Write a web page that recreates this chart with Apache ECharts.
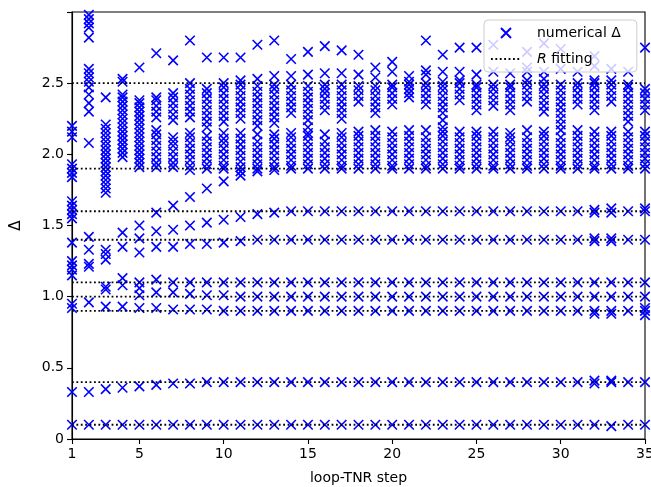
<!DOCTYPE html>
<html>
<head>
<meta charset="utf-8">
<script src="https://cdn.jsdelivr.net/npm/echarts@6/dist/echarts.min.js"></script>
<style>
html,body{margin:0;padding:0;background:#fff;}
#chart{width:651px;height:487px;}
</style>
</head>
<body>
<div id="chart"></div>
<script>
// x tick labels
const xTicks = [1, 5, 10, 15, 20, 25, 30, 35];
// R fitting levels
const fitLevels = [0.1, 0.4, 0.9, 1.0, 1.1, 1.4, 1.6, 1.9, 2.5];
// numerical Δ per loop-TNR step
const d01 = [0.10,0.33,0.92,0.95,1.15,1.19,1.22,1.25,1.38,1.55,1.58,1.61,1.64,1.67,1.84,1.87,1.90,1.93,2.12,2.16,2.20];
const d02 = [0.10,0.33,0.96,1.21,1.23,1.33,1.42,2.08,2.30,2.36,2.42,2.47,2.51,2.54,2.57,2.60,2.82,2.89,2.92,2.95,2.98,3.02];
const d03 = [0.10,0.35,0.93,1.05,1.07,1.26,1.30,1.33,1.73,1.76,1.79,1.82,1.85,1.88,1.91,1.94,1.97,2.00,2.03,2.06,2.09,2.12,2.15,2.18,2.21,2.40];
const d04 = [0.10,0.36,0.93,1.08,1.13,1.35,1.45,1.98,2.01,2.04,2.07,2.10,2.13,2.16,2.19,2.22,2.25,2.28,2.31,2.34,2.37,2.40,2.42,2.51,2.53];
const d05 = [0.10,0.37,0.92,1.01,1.06,1.10,1.31,1.41,1.50,1.91,1.94,1.97,2.00,2.03,2.06,2.09,2.12,2.15,2.18,2.21,2.24,2.27,2.30,2.33,2.36,2.38,2.61];
const d06 = [0.10,0.38,0.92,1.03,1.12,1.35,1.46,1.59,1.91,1.94,1.98,2.02,2.06,2.10,2.14,2.17,2.26,2.30,2.34,2.38,2.40,2.71];
const d07 = [0.10,0.39,0.91,1.03,1.10,1.35,1.47,1.64,1.91,1.94,1.98,2.02,2.06,2.09,2.12,2.24,2.28,2.32,2.36,2.40,2.43,2.66];
const d08 = [0.10,0.39,0.91,1.02,1.10,1.37,1.50,1.70,1.89,1.92,1.96,2.00,2.04,2.08,2.12,2.15,2.26,2.30,2.34,2.38,2.42,2.46,2.50,2.80];
const d09 = [0.10,0.40,0.91,1.01,1.10,1.37,1.52,1.76,1.90,1.93,1.97,2.01,2.05,2.09,2.13,2.19,2.23,2.27,2.31,2.35,2.39,2.43,2.46,2.68];
const d10 = [0.10,0.40,0.90,1.01,1.10,1.38,1.54,1.81,1.90,1.92,1.96,2.00,2.04,2.08,2.11,2.15,2.23,2.27,2.31,2.35,2.39,2.43,2.47,2.50,2.68];
const d11 = [0.10,0.40,0.90,1.00,1.10,1.39,1.56,1.85,1.88,1.91,1.95,1.99,2.03,2.07,2.11,2.15,2.25,2.29,2.33,2.37,2.41,2.45,2.49,2.52,2.68];
const d12 = [0.10,0.40,0.90,1.00,1.10,1.40,1.58,1.88,1.90,1.93,1.97,2.01,2.05,2.09,2.14,2.20,2.24,2.28,2.32,2.36,2.40,2.44,2.48,2.53,2.77];
const d13 = [0.10,0.40,0.90,1.00,1.10,1.40,1.59,1.89,1.91,1.95,1.99,2.03,2.07,2.11,2.14,2.22,2.26,2.30,2.34,2.38,2.42,2.46,2.49,2.55,2.80];
const d14 = [0.10,0.40,0.90,1.00,1.10,1.40,1.60,1.90,1.92,1.96,2.00,2.04,2.08,2.12,2.15,2.29,2.33,2.37,2.41,2.45,2.49,2.55,2.67];
const d15 = [0.10,0.40,0.90,1.00,1.10,1.40,1.60,1.90,1.93,1.97,2.01,2.05,2.09,2.13,2.15,2.19,2.24,2.28,2.32,2.36,2.40,2.44,2.48,2.56,2.72];
const d16 = [0.10,0.40,0.90,1.00,1.10,1.40,1.60,1.90,1.93,1.97,2.01,2.05,2.09,2.14,2.31,2.35,2.39,2.43,2.46,2.49,2.57,2.76];
const d17 = [0.10,0.40,0.90,1.00,1.10,1.40,1.60,1.90,1.92,1.96,2.00,2.04,2.08,2.12,2.15,2.25,2.29,2.33,2.37,2.41,2.45,2.49,2.57,2.73];
const d18 = [0.10,0.40,0.90,1.00,1.10,1.40,1.60,1.90,1.93,1.97,2.01,2.05,2.09,2.13,2.16,2.37,2.41,2.45,2.48,2.56,2.70];
const d19 = [0.10,0.40,0.90,1.00,1.10,1.40,1.60,1.90,1.93,1.97,2.01,2.05,2.09,2.13,2.17,2.29,2.33,2.37,2.41,2.45,2.48,2.54,2.61];
const d20 = [0.10,0.40,0.90,1.00,1.10,1.40,1.60,1.90,1.92,1.96,2.00,2.04,2.08,2.12,2.16,2.35,2.39,2.43,2.47,2.49,2.58,2.65];
const d21 = [0.10,0.40,0.90,1.00,1.10,1.40,1.60,1.90,1.93,1.97,2.01,2.05,2.09,2.13,2.17,2.40,2.43,2.46,2.49,2.51,2.55];
const d22 = [0.10,0.40,0.90,1.00,1.10,1.40,1.60,1.90,1.92,1.96,2.00,2.04,2.08,2.12,2.17,2.35,2.39,2.43,2.47,2.50,2.56,2.59,2.80];
const d23 = [0.10,0.40,0.90,1.00,1.10,1.40,1.60,1.90,1.93,1.97,2.01,2.05,2.09,2.13,2.16,2.19,2.24,2.29,2.33,2.37,2.41,2.45,2.48,2.51,2.58,2.70];
const d24 = [0.10,0.40,0.90,1.00,1.10,1.40,1.60,1.90,1.92,1.96,2.00,2.04,2.08,2.12,2.16,2.38,2.42,2.46,2.50,2.52,2.58,2.75];
const d25 = [0.10,0.40,0.90,1.00,1.10,1.40,1.60,1.90,1.93,1.97,2.01,2.05,2.09,2.13,2.16,2.31,2.35,2.39,2.43,2.47,2.49,2.56,2.75];
const d26 = [0.10,0.40,0.90,1.00,1.10,1.40,1.60,1.90,1.92,1.96,2.00,2.04,2.08,2.12,2.16,2.34,2.38,2.42,2.46,2.49,2.58,2.77];
const d27 = [0.10,0.40,0.90,1.00,1.10,1.40,1.60,1.90,1.93,1.97,2.01,2.05,2.09,2.12,2.15,2.31,2.35,2.39,2.43,2.47,2.49,2.57];
const d28 = [0.10,0.40,0.90,1.00,1.10,1.40,1.60,1.90,1.92,1.96,2.00,2.04,2.08,2.12,2.17,2.37,2.41,2.45,2.49,2.52,2.58,2.61,2.72];
const d29 = [0.10,0.40,0.90,1.00,1.10,1.40,1.60,1.90,1.93,1.97,2.01,2.05,2.09,2.13,2.16,2.30,2.34,2.38,2.42,2.46,2.49,2.53,2.58,2.78];
const d30 = [0.10,0.40,0.90,1.00,1.10,1.40,1.60,1.90,1.92,1.96,2.00,2.04,2.08,2.12,2.17,2.21,2.25,2.29,2.33,2.37,2.41,2.45,2.49,2.60,2.74];
const d31 = [0.10,0.40,0.90,1.00,1.10,1.40,1.60,1.90,1.93,1.97,2.01,2.05,2.09,2.13,2.17,2.35,2.39,2.43,2.47,2.50,2.58];
const d32 = [0.10,0.39,0.41,0.88,0.90,1.00,1.10,1.39,1.41,1.59,1.61,1.90,1.92,1.96,2.00,2.04,2.08,2.12,2.16,2.31,2.35,2.39,2.43,2.47,2.50,2.52,2.62,2.69];
const d33 = [0.09,0.40,0.41,0.88,0.90,1.00,1.10,1.39,1.41,1.59,1.62,1.90,1.93,1.97,2.01,2.05,2.09,2.13,2.16,2.37,2.41,2.45,2.49,2.52,2.60];
const d34 = [0.10,0.40,0.90,1.00,1.10,1.40,1.60,1.90,1.92,1.96,2.00,2.04,2.08,2.12,2.16,2.23,2.27,2.31,2.35,2.39,2.43,2.47,2.49,2.58];
const d35 = [0.10,0.40,0.87,0.90,0.92,1.00,1.10,1.40,1.60,1.62,1.90,1.93,1.97,2.01,2.05,2.09,2.13,2.16,2.31,2.35,2.39,2.43,2.46,2.75];
const stepValues = [d01,d02,d03,d04,d05,d06,d07,d08,d09,d10,d11,d12,d13,d14,d15,d16,d17,d18,d19,d20,d21,d22,d23,d24,d25,d26,d27,d28,d29,d30,d31,d32,d33,d34,d35];

const scatterData = [];
stepValues.forEach((arr, i) => arr.forEach(v => scatterData.push([i + 1, v])));

const FONT = 'DejaVu Sans';
const series = [{
  name: 'numerical Δ',
  type: 'scatter',
  data: scatterData,
  symbol: 'path://M0 0L10 10M10 0L0 10',
  symbolSize: 9.5,
  clip: true,
  silent: true,
  itemStyle: { color: '#0000ff', borderColor: '#0000ff', borderWidth: 1.6, opacity: 1 },
  z: 2
}];
fitLevels.forEach(v => {
  series.push({
    name: 'R fitting',
    type: 'line',
    data: [[1, v], [35, v]],
    symbol: 'none',
    silent: true,
    itemStyle: { color: '#000' },
    lineStyle: { color: '#000', width: 1.8, type: [1.8, 2.6] },
    z: 3
  });
});

const chart = echarts.init(document.getElementById('chart'), null, { renderer: 'canvas' });
chart.setOption({
  animation: false,
  backgroundColor: '#fff',
  textStyle: { fontFamily: FONT },
  grid: { left: 72, right: 6, top: 12, bottom: 48, outerBoundsMode: 'none', containLabel: false, show: true, borderColor: '#000', borderWidth: 1.1, backgroundColor: 'transparent' },
  legend: {
    orient: 'vertical',
    left: 484,
    top: 20,
    data: [
      { name: 'numerical Δ' },
      { name: 'R fitting', itemStyle: { color: 'rgba(0,0,0,0)', borderColor: 'rgba(0,0,0,0)', borderWidth: 0, opacity: 0 } }
    ],
    itemWidth: 30,
    itemHeight: 10,
    itemGap: 12,
    padding: [6, 16, 6, 6],
    backgroundColor: 'rgba(255,255,255,0.8)',
    borderColor: '#cccccc',
    borderWidth: 1,
    borderRadius: 4,
    selectedMode: false,
    formatter: function (name) {
      return name === 'R fitting' ? '{i|R} fitting' : name;
    },
    textStyle: {
      fontFamily: FONT, fontSize: 14, color: '#000', padding: [0, 0, 0, 11],
      rich: { i: { fontStyle: 'italic', fontFamily: FONT, fontSize: 14, color: '#000' } }
    }
  },
  xAxis: {
    type: 'value',
    min: 1, max: 35,
    name: 'loop-TNR step',
    nameLocation: 'middle',
    nameGap: 32,
    nameTextStyle: { fontFamily: FONT, fontSize: 14, color: '#000' },
    axisLine: { show: true, lineStyle: { color: '#000', width: 1.1 } },
    axisTick: { show: true, inside: false, length: 5, lineStyle: { color: '#000', width: 1.1 }, customValues: xTicks },
    axisLabel: { fontFamily: FONT, fontSize: 14, color: '#000', margin: 8, customValues: xTicks },
    splitLine: { show: false }
  },
  yAxis: {
    type: 'value',
    min: 0, max: 3, interval: 0.5,
    name: 'Δ',
    nameLocation: 'middle',
    nameRotate: 90,
    nameGap: 48,
    nameTextStyle: { fontFamily: FONT, fontSize: 15, color: '#000' },
    axisLine: { show: true, lineStyle: { color: '#000', width: 1.1 } },
    axisTick: { show: true, inside: false, length: 5, lineStyle: { color: '#000', width: 1.1 } },
    axisLabel: {
      fontFamily: FONT, fontSize: 14, color: '#000', margin: 8,
      formatter: function (v) { if (v >= 2.99) return ''; return v === 0 ? '0' : v.toFixed(1); }
    },
    splitLine: { show: false }
  },
  series: series
});
</script>
</body>
</html>
